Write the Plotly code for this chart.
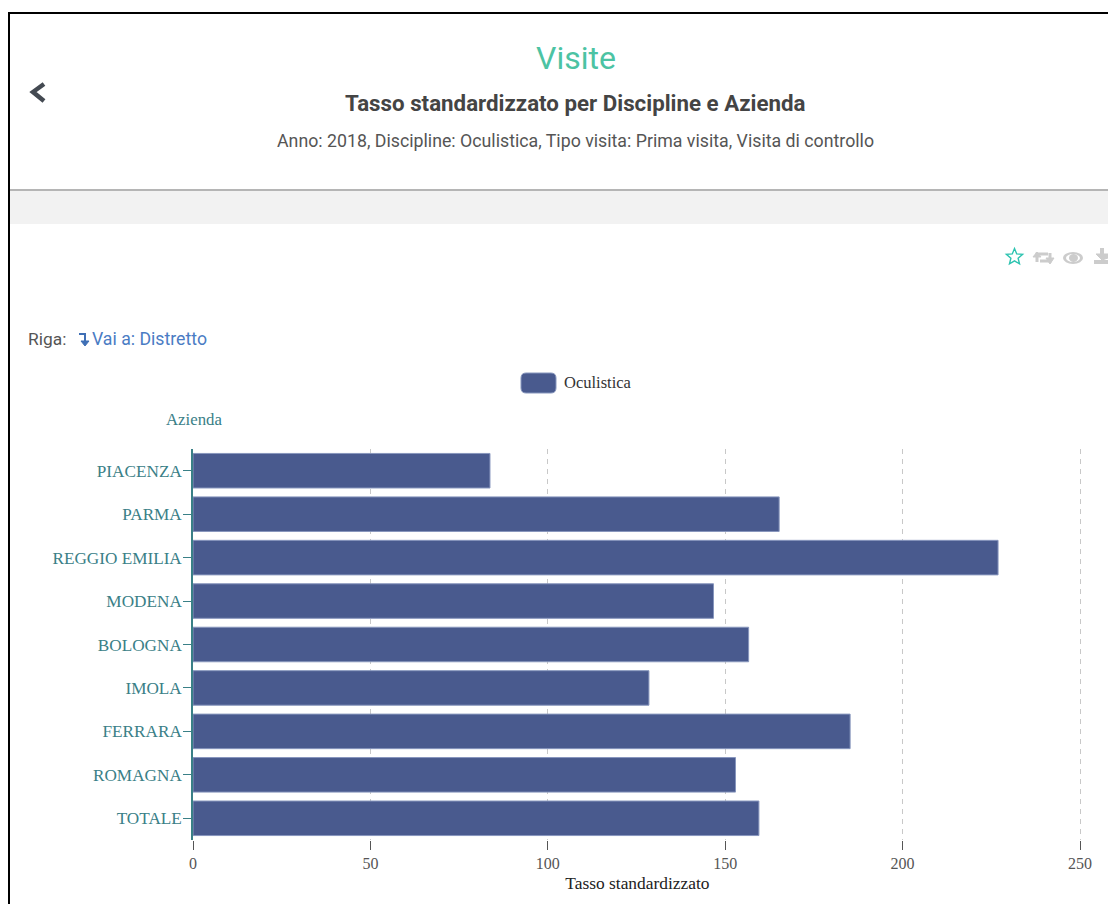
import math
import plotly.graph_objects as go

W, H = 1108, 904
categories = ["PIACENZA", "PARMA", "REGGIO EMILIA", "MODENA", "BOLOGNA", "IMOLA", "FERRARA", "ROMAGNA", "TOTALE"]
values = [83.7, 165.2, 226.9, 146.7, 156.6, 128.5, 185.2, 152.9, 159.5]
x_ticks = [0, 50, 100, 150, 200, 250]
series_name = "Oculistica"

BAR = "#495a8e"
TEAL = "#3a8087"
ICON = "#cccccc"
SERIF = "Liberation Serif"
SANS = "Roboto"

def px(x):
    return x / W

def py(y):
    return 1 - y / H

fig = go.Figure(go.Bar(
    y=categories, x=values, orientation="h", name=series_name,
    marker=dict(color=BAR, line=dict(color="#8796bd", width=1)),
))

def note(x, y, text, size, color, family=SANS, anchor="center", bold=False):
    fig.add_annotation(
        xref="paper", yref="paper", x=px(x), y=py(y), text=f"<b>{text}</b>" if bold else text,
        showarrow=False, xanchor=anchor, yanchor="middle", borderpad=0, borderwidth=0,
        font=dict(size=size, color=color, family=family),
    )

def rect(x0, y0, x1, y1, fill):
    fig.add_shape(type="rect", xref="paper", yref="paper", x0=px(x0), x1=px(x1), y0=py(y0), y1=py(y1),
                  fillcolor=fill, line=dict(width=0), layer="below")

def path(points, color, width=2.0, fill=None, close=False):
    d = "M " + " L ".join(f"{px(a):.5f},{py(b):.5f}" for a, b in points) + (" Z" if close else "")
    fig.add_shape(type="path", xref="paper", yref="paper", path=d,
                  line=dict(color=color, width=width), fillcolor=fill)

def ellipse(x0, y0, x1, y1, fill):
    fig.add_shape(type="circle", xref="paper", yref="paper", x0=px(x0), x1=px(x1), y0=py(y0), y1=py(y1),
                  fillcolor=fill, line=dict(width=0))

# page chrome
rect(10, 191, W, 224, "#f2f2f2")
rect(10, 189, W, 191, "#b5b5b5")
rect(8, 12, W, 14, "#000000")
rect(8, 12, 10, H, "#000000")

note(576, 58, "Visite", 32, "#4cc3a3")
note(575.5, 103, "Tasso standardizzato per Discipline e Azienda", 22.3, "#444444", bold=True)
note(575.5, 141, "Anno: 2018, Discipline: Oculistica, Tipo visita: Prima visita, Visita di controllo", 17.75, "#555555")
path([(44, 84), (33, 92), (44, 101)], "#444a52", width=4.5)

# toolbar icons
star = []
for i in range(10):
    rad = 8.5 if i % 2 == 0 else 3.8
    ang = -math.pi / 2 + i * math.pi / 5
    star.append((1014.5 + rad * math.cos(ang), 257 + rad * math.sin(ang)))
path(star, "#2cc3b0", width=1.4, close=True)

path([(1037, 262), (1037, 254), (1048, 254)], ICON, width=3)
path([(1033, 257), (1041, 257), (1037, 252)], ICON, width=1, fill=ICON, close=True)
path([(1050, 253), (1050, 261), (1040, 261)], ICON, width=3)
path([(1046, 258), (1054, 258), (1050, 264)], ICON, width=1, fill=ICON, close=True)
ellipse(1063, 252, 1083, 264, ICON)
ellipse(1066, 254, 1080, 262, "#ffffff")
ellipse(1069, 254, 1078, 262, ICON)
path([(1094, 262), (W, 262)], ICON, width=4)
path([(1102, 248), (1102, 255)], ICON, width=4)
path([(1096, 254), (W, 254), (W, 258), (1102, 260)], ICON, width=1, fill=ICON, close=True)

note(28, 339, "Riga:", 17.4, "#555555", anchor="left")
path([(79, 334), (85, 334), (85, 342)], "#3f6fb5", width=2)
path([(81, 341), (89, 341), (85, 346)], "#3f6fb5", width=1, fill="#3f6fb5", close=True)
note(92, 339, "Vai a: Distretto", 17.7, "#4a7cc4", anchor="left")

# legend
lx0, lx1, ly0, ly1, r = px(521), px(556), py(373), py(393), 5
rx, ry = r / W, r / H
fig.add_shape(
    type="path", xref="paper", yref="paper",
    path=(f"M {lx0+rx},{ly0} L {lx1-rx},{ly0} Q {lx1},{ly0} {lx1},{ly0-ry} L {lx1},{ly1+ry} "
          f"Q {lx1},{ly1} {lx1-rx},{ly1} L {lx0+rx},{ly1} Q {lx0},{ly1} {lx0},{ly1+ry} "
          f"L {lx0},{ly0-ry} Q {lx0},{ly0} {lx0+rx},{ly0} Z"),
    fillcolor=BAR, line=dict(color="#8796bd", width=1),
)
note(564, 383, series_name, 16.5, "#333333", family=SERIF, anchor="left")
note(194, 420, "Azienda", 16.8, TEAL, family=SERIF)

fig.update_layout(
    width=W, height=H, autosize=False, margin=dict(l=0, r=0, t=0, b=0),
    paper_bgcolor="#ffffff", plot_bgcolor="#ffffff", showlegend=False, bargap=0.205,
    xaxis=dict(
        automargin=False,
        domain=[px(193), px(1081.8)], range=[0, 250.5], tickvals=x_ticks, ticks="outside", ticklen=9,
        tickcolor="#555555", tickwidth=1, showline=False, zeroline=False,
        showgrid=True, gridcolor="#c8c8c8", griddash="5px,5px", gridwidth=1,
        tickfont=dict(family=SERIF, size=16, color="#555555"),
        title=dict(text="Tasso standardizzato", font=dict(family=SERIF, size=17.4, color="#222222"), standoff=5),
    ),
    yaxis=dict(
        automargin=False,
        domain=[py(840), py(449)], categoryorder="array", categoryarray=categories, autorange="reversed",
        ticks="outside", ticklen=8, tickcolor=TEAL, tickwidth=1, showline=True, linecolor=TEAL, linewidth=1.5,
        showgrid=False, ticklabelstandoff=-2, tickfont=dict(family=SERIF, size=17.2, color=TEAL),
    ),
)

fig.write_html(
    "out.html",
    config={"displayModeBar": False, "responsive": False},
    post_script="document.body.style.margin='0';document.documentElement.style.overflow='hidden';",
)
